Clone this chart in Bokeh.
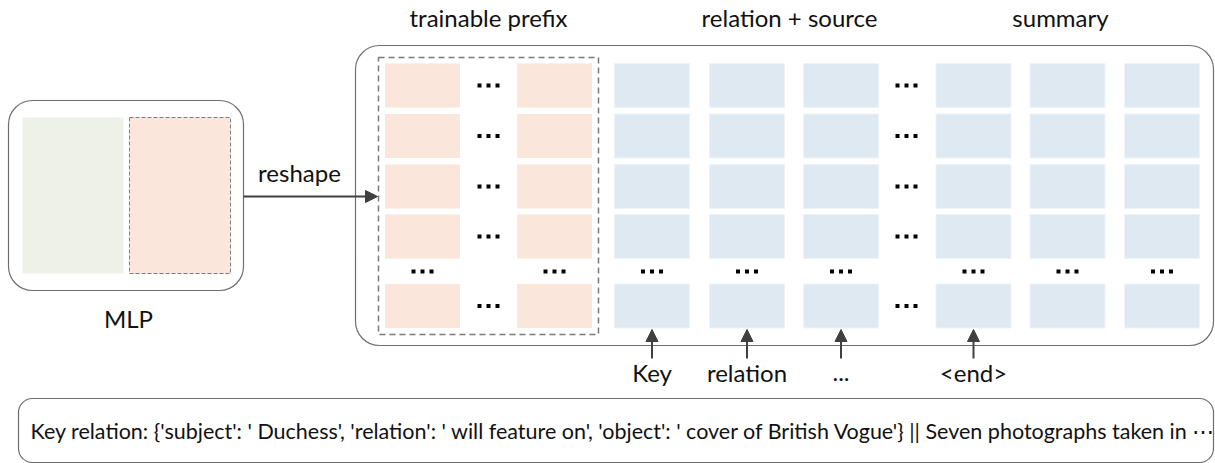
from bokeh.plotting import figure
from bokeh.models import Range1d, BoxAnnotation, Arrow, NormalHead, ColumnDataSource
from bokeh.core.properties import value
from bokeh.embed import file_html
from bokeh.resources import INLINE

# ---- content ----
section_titles = ["trainable prefix", "relation + source", "summary"]
token_labels = ["Key", "relation", "...", "<end>"]
mlp_label = "MLP"
reshape_label = "reshape"
input_text = ("Key relation: {'subject': ' Duchess', 'relation': ' will feature on', "
              "'object': ' cover of British Vogue'} || Seven photographs taken in \u22ef")

# ---- layout constants ----
FONT = "Lato"
GRAY = "#6e6e6e"
DARK = "#404040"
ORANGE = "#FAE6DA"
BLUE = "#DFE9F2"
GREEN = "#EEF1E7"
TXT = "#111111"

p = figure(width=1215, height=463, output_backend="svg", toolbar_location=None,
           x_range=Range1d(0, 1215), y_range=Range1d(463, 0), min_border=0)
p.axis.visible = False
p.grid.visible = False
p.outline_line_color = None

cell_w, cell_h = 75, 44
row_y = [85, 135.5, 186, 236, 305.5]
ell_y = 271
prefix_x = [422, 554]
seq_x = [651.5, 746.5, 840.5, 973, 1067, 1161.5]

# prefix cells
px, py = [], []
for x in prefix_x:
    for y in row_y:
        px.append(x); py.append(y)
p.rect(px, py, cell_w, cell_h, fill_color=ORANGE, line_color=None)
# sequence cells
sx, sy = [], []
for x in seq_x:
    for y in row_y:
        sx.append(x); sy.append(y)
p.rect(sx, sy, cell_w, cell_h, fill_color=BLUE, line_color="#EEF3F8", line_width=1)

# ellipsis dots
dot_centers = []
for y in row_y:
    dot_centers.append((488, y))
    dot_centers.append((906, y))
for x in prefix_x + seq_x:
    dot_centers.append((x, ell_y))
dx, dy = [], []
for (cx, cy) in dot_centers:
    for off in (-9, 0, 9):
        dx.append(cx + off); dy.append(cy)
p.scatter(dx, dy, marker="square", size=4, fill_color="black", line_color=None)

# big rounded containers
def box(**kw):
    return BoxAnnotation(fill_color=None, fill_alpha=0, line_alpha=1, **kw)

p.add_layout(box(left=355, right=1213, top=45, bottom=345,
                 line_color=GRAY, line_width=1.2, border_radius=24))
p.add_layout(box(left=378, right=598, top=57, bottom=334,
                 line_color="#7a7a7a", line_width=1.5, line_dash="6 4"))
p.add_layout(box(left=8, right=243, top=100, bottom=290,
                 line_color=GRAY, line_width=1.2, border_radius=24))
p.add_layout(box(left=18, right=1213, top=398, bottom=462,
                 line_color=GRAY, line_width=1.2, border_radius=14))

# MLP contents
p.quad(left=[22], right=[123], top=[117], bottom=[273], fill_color=GREEN, line_color=None)
p.quad(left=[129], right=[230], top=[117], bottom=[273], fill_color=ORANGE,
       line_color="#7f7f7f", line_width=1, line_dash="4 2")

# reshape arrow
p.add_layout(Arrow(x_start=243, y_start=196, x_end=377, y_end=196, line_color=DARK, line_width=2,
                   end=NormalHead(size=12, fill_color=DARK, line_color=DARK)))
# token arrows
arr_src = ColumnDataSource(dict(x0=seq_x[:4], y0=[358] * 4, x1=seq_x[:4], y1=[329] * 4))
p.add_layout(Arrow(x_start="x0", y_start="y0", x_end="x1", y_end="y1", source=arr_src,
                   line_color=DARK, line_width=2,
                   end=NormalHead(size=12, fill_color=DARK, line_color=DARK)))

# texts
LBL = "24px"
p.text(x=[488, 789, 1060], y=[17, 17, 17], text=section_titles, text_font=value(FONT),
       text_font_size=LBL, text_align="center", text_baseline="middle", text_color=TXT)
p.text(x=seq_x[:4], y=[372] * 4, text=token_labels, text_font=value(FONT),
       text_font_size=LBL, text_align="center", text_baseline="middle", text_color=TXT)
p.text(x=[128], y=[318], text=[mlp_label], text_font=value(FONT), text_font_size=LBL,
       text_align="center", text_baseline="middle", text_color=TXT)
p.text(x=[299], y=[172], text=[reshape_label], text_font=value(FONT), text_font_size=LBL,
       text_align="center", text_baseline="middle", text_color=TXT)
p.text(x=[30], y=[430], text=[input_text], text_font=value(FONT), text_font_size="21.5px",
       text_align="left", text_baseline="middle", text_color=TXT)

open("out.html", "w").write(file_html(p, INLINE))
